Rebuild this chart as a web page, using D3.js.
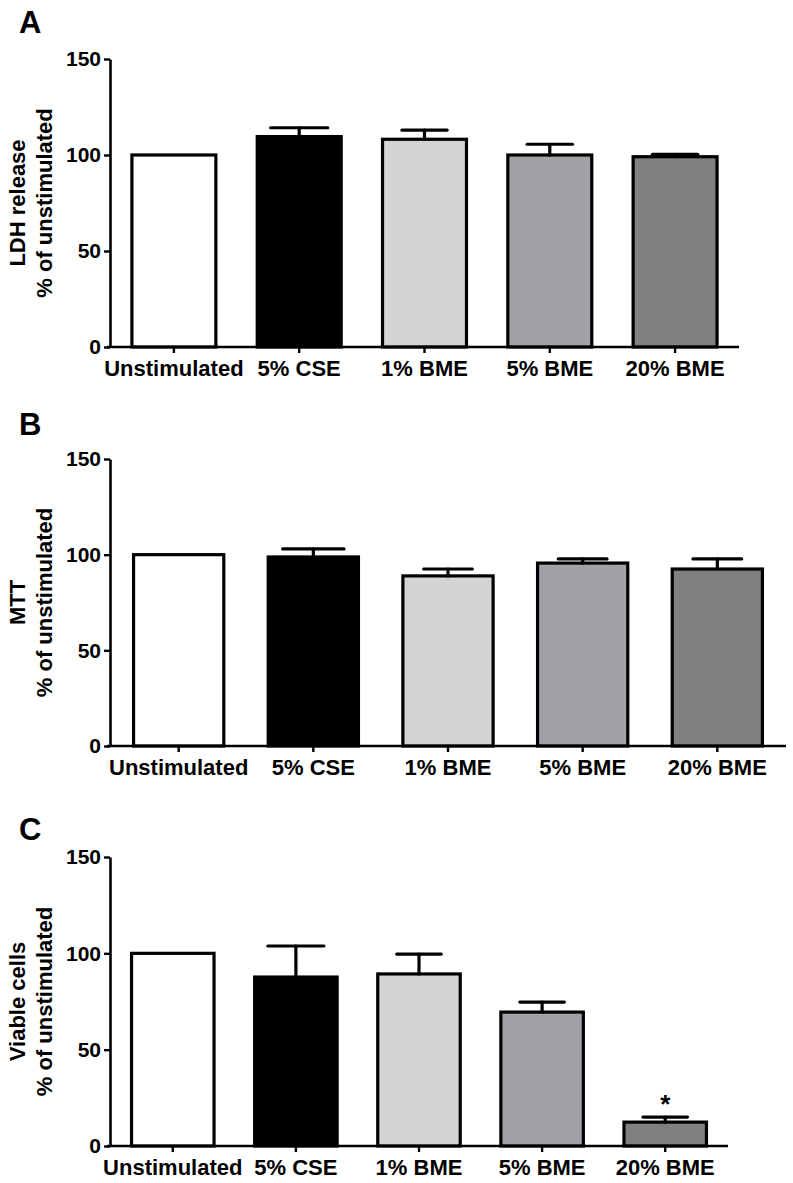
<!DOCTYPE html>
<html>
<head>
<meta charset="utf-8">
<script src="https://cdn.jsdelivr.net/npm/d3@7"></script>
<style>
  body { margin: 0; background: #fff; }
  svg { display: block; font-family: 'Liberation Sans', Arial, sans-serif; font-weight: bold; }
</style>
</head>
<body>
<div id="chart"></div>
<script>
const categories = ['Unstimulated', '5% CSE', '1% BME', '5% BME', '20% BME'];
const barColors = ['#ffffff', '#000000', '#d4d4d4', '#a2a2a6', '#808080'];
const yTicks = [0, 50, 100, 150];

// panel A: LDH release
const ldhMean = [100, 109.6, 108.2, 100, 99.1];
const ldhSem = [0, 4.6, 4.8, 5.6, 1.3];
// panel B: MTT
const mttMean = [100, 98.8, 88.9, 95.6, 92.5];
const mttSem = [0, 4.2, 3.6, 2.2, 5.3];
// panel C: viable cells
const viableMean = [100, 87.7, 89.3, 69.5, 12.4];
const viableSem = [0, 16.1, 10.3, 5.2, 2.6];
const viableStars = ['', '', '', '', '*'];

const width = 793;
const height = 1183;

const svg = d3.select('#chart')
  .append('svg')
  .attr('width', width)
  .attr('height', height);

const panels = [
  { letter: 'A', title: ['LDH release', '% of unstimulated'], mean: ldhMean, sem: ldhSem, stars: null,
    top: 59, bottom: 347, xEnd: 739, letterY: 33 },
  { letter: 'B', title: ['MTT', '% of unstimulated'], mean: mttMean, sem: mttSem, stars: null,
    top: 459, bottom: 746, xEnd: 786, letterY: 435 },
  { letter: 'C', title: ['Viable cells', '% of unstimulated'], mean: viableMean, sem: viableSem, stars: viableStars,
    top: 857, bottom: 1146, xEnd: 728, letterY: 840 }
];

const axisLeftX = 110;

panels.forEach((p) => drawPanel(p));

function drawPanel(p) {
  const g = svg.append('g');

  const x = d3.scaleBand()
    .domain(categories)
    .range([axisLeftX, p.xEnd])
    .paddingInner(0.33)
    .paddingOuter(0.175);

  const y = d3.scaleLinear()
    .domain([0, 150])
    .range([p.bottom, p.top]);

  const rows = categories.map((c, i) => ({
    key: c,
    value: p.mean[i],
    sem: p.sem[i],
    color: barColors[i],
    star: p.stars ? p.stars[i] : '',
    i
  }));

  // bars
  g.append('g')
    .selectAll('rect')
    .data(rows)
    .join('rect')
    .attr('x', (d) => x(d.key))
    .attr('y', (d) => y(d.value))
    .attr('width', x.bandwidth())
    .attr('height', (d) => y(0) - y(d.value))
    .attr('fill', (d) => d.color)
    .attr('stroke', '#000')
    .attr('stroke-width', 3.2);

  // upper error bars only (lower half is hidden by the bar)
  const errG = g.append('g')
    .attr('stroke', '#000')
    .attr('stroke-width', 3.2)
    .attr('stroke-linecap', 'round');

  const withErr = rows.filter((d) => d.sem > 0);
  const cx = (d) => x(d.key) + x.bandwidth() / 2;
  const capHalf = (d) => x.bandwidth() * (d.i === 1 ? 0.34 : 0.27);

  errG.selectAll('.stem')
    .data(withErr)
    .join('line')
    .attr('class', 'stem')
    .attr('x1', cx)
    .attr('x2', cx)
    .attr('y1', (d) => y(d.value))
    .attr('y2', (d) => y(d.value + d.sem));

  errG.selectAll('.cap')
    .data(withErr)
    .join('line')
    .attr('class', 'cap')
    .attr('x1', (d) => cx(d) - capHalf(d))
    .attr('x2', (d) => cx(d) + capHalf(d))
    .attr('y1', (d) => y(d.value + d.sem))
    .attr('y2', (d) => y(d.value + d.sem));

  // significance marks
  g.append('g')
    .selectAll('text')
    .data(rows.filter((d) => d.star))
    .join('text')
    .attr('x', cx)
    .attr('y', (d) => y(d.value + d.sem) - 4)
    .attr('text-anchor', 'middle')
    .attr('font-size', '26px')
    .text((d) => d.star);

  // x axis
  const xAxis = g.append('g')
    .attr('transform', `translate(0, ${p.bottom})`)
    .call(d3.axisBottom(x).tickSize(6).tickSizeOuter(0).tickPadding(7));
  xAxis.select('.domain')
    .attr('stroke-width', 2.6)
    .attr('d', `M${axisLeftX - 3},0H${p.xEnd}`);
  xAxis.selectAll('.tick line').attr('stroke-width', 2.4);
  xAxis.selectAll('.tick text')
    .attr('font-size', '22px')
    .attr('font-family', "'Liberation Sans', Arial, sans-serif")
    .attr('font-weight', 'bold')
    .attr('fill', '#000');

  // y axis
  const yAxis = g.append('g')
    .attr('transform', `translate(${axisLeftX}, 0)`)
    .call(d3.axisLeft(y).tickValues(yTicks).tickSize(6).tickSizeOuter(0).tickPadding(3));
  yAxis.select('.domain').attr('stroke-width', 2.6);
  yAxis.selectAll('.tick line').attr('stroke-width', 2.4);
  yAxis.selectAll('.tick text')
    .attr('font-size', '21px')
    .attr('font-family', "'Liberation Sans', Arial, sans-serif")
    .attr('font-weight', 'bold')
    .attr('fill', '#000');

  // y title, two lines rotated
  const midY = (p.top + p.bottom) / 2;
  const title = g.append('text')
    .attr('transform', `translate(0, ${midY}) rotate(-90)`)
    .attr('text-anchor', 'middle')
    .attr('font-size', '22px');
  title.append('tspan').attr('x', 0).attr('y', 25).text(p.title[0]);
  title.append('tspan').attr('x', 0).attr('y', 52).text(p.title[1]);

  // panel letter
  g.append('text')
    .attr('x', 19)
    .attr('y', p.letterY)
    .attr('font-size', '31px')
    .text(p.letter);
}
</script>
</body>
</html>
